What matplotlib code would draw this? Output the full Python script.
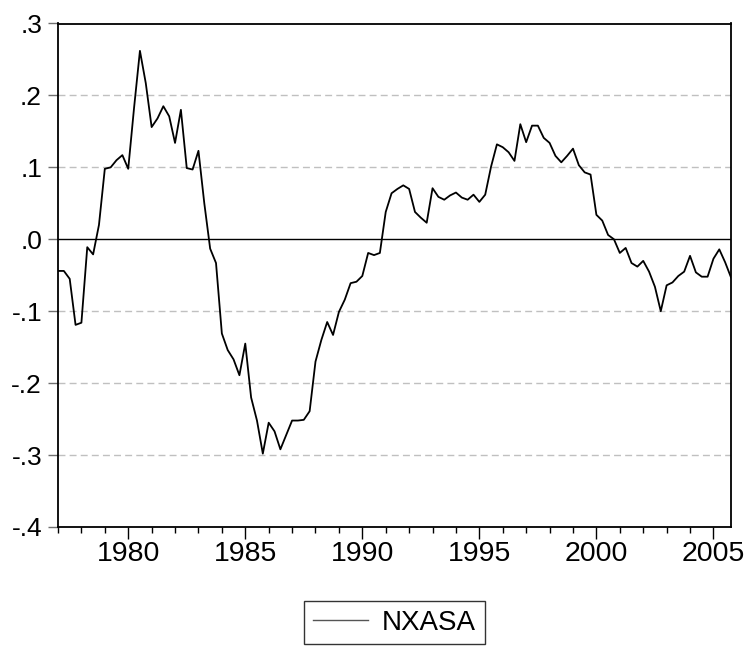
import numpy as np
import matplotlib
matplotlib.use("Agg")
import matplotlib.pyplot as plt
from matplotlib.ticker import FixedLocator, FuncFormatter

# quarterly series, 1977Q1 - 2005Q4
start_year = 1977
nxasa = [
    -0.044, -0.044, -0.055, -0.119, -0.116, -0.011, -0.021, 0.020,   # 1977-78
    0.098, 0.100, 0.110, 0.117, 0.098, 0.183, 0.262, 0.217,          # 1979-80
    0.156, 0.168, 0.185, 0.171, 0.134, 0.180, 0.099, 0.097,          # 1981-82
    0.123, 0.050, -0.013, -0.033, -0.131, -0.154, -0.167, -0.189,    # 1983-84
    -0.145, -0.220, -0.252, -0.298, -0.255, -0.267, -0.292, -0.272,  # 1985-86
    -0.252, -0.252, -0.251, -0.239, -0.170, -0.140, -0.115, -0.133,  # 1987-88
    -0.101, -0.084, -0.061, -0.059, -0.051, -0.019, -0.022, -0.019,  # 1989-90
    0.038, 0.064, 0.070, 0.075, 0.070, 0.038, 0.030, 0.023,          # 1991-92
    0.071, 0.059, 0.055, 0.061, 0.065, 0.058, 0.055, 0.062,          # 1993-94
    0.052, 0.062, 0.101, 0.132, 0.128, 0.121, 0.109, 0.160,          # 1995-96
    0.135, 0.158, 0.158, 0.141, 0.134, 0.116, 0.107, 0.116,          # 1997-98
    0.126, 0.103, 0.093, 0.090, 0.034, 0.026, 0.006, 0.000,          # 1999-2000
    -0.019, -0.012, -0.033, -0.038, -0.030, -0.045, -0.066, -0.100,  # 2001-02
    -0.064, -0.060, -0.051, -0.045, -0.023, -0.046, -0.052, -0.052,  # 2003-04
    -0.027, -0.014, -0.032, -0.053,                                  # 2005
]
series_name = "NXASA"
y_ticks = [0.3, 0.2, 0.1, 0.0, -0.1, -0.2, -0.3, -0.4]
year_labels = [1980, 1985, 1990, 1995, 2000, 2005]

t = start_year + np.arange(len(nxasa)) / 4.0

plt.rcParams["font.family"] = ["Liberation Sans", "DejaVu Sans"]

fig = plt.figure(figsize=(7.46, 6.48), dpi=100)
ax = fig.add_axes([58 / 746, 121 / 648, 673 / 746, 503.5 / 648])

# grid: dashed grey, zero line solid
for v in y_ticks:
    if v == 0.0:
        ax.axhline(v, color="black", lw=1.0, zorder=1)
    else:
        ax.axhline(v, color="#c0c0c0", lw=1.0, ls=(0, (5, 3)), zorder=1)

ax.plot(t, nxasa, color="black", lw=1.3, label=series_name, zorder=3)

ax.set_xlim(t[0], t[-1])
ax.set_ylim(-0.4, 0.3)

ax.yaxis.set_major_locator(FixedLocator(y_ticks))
ax.yaxis.set_major_formatter(FuncFormatter(
    lambda v, p: ("-" if v < -1e-9 else "") + ".%d" % round(abs(v) * 10)))
ax.tick_params(axis="y", direction="out", length=7.5, width=1.0,
               color="#707070", labelsize=19, pad=4.0)

ax.xaxis.set_major_locator(FixedLocator(year_labels))
ax.xaxis.set_minor_locator(FixedLocator(range(start_year, 2006)))
ax.xaxis.set_major_formatter(FuncFormatter(lambda v, p: "%d" % v))
ax.tick_params(axis="x", which="major", direction="out", length=8.5,
               width=1.0, labelsize=20.5, pad=1.5)
ax.tick_params(axis="x", which="minor", direction="out", length=4.3,
               width=1.0)

for s in ax.spines.values():
    s.set_linewidth(1.3)
    s.set_color("black")

leg = ax.legend(loc="center", bbox_to_anchor=(0.5, -0.19), fontsize=20,
                handlelength=2.0, handletextpad=0.5, borderpad=0.3,
                fancybox=False, frameon=True)
leg.get_frame().set_edgecolor("black")
leg.get_frame().set_linewidth(1.0)
leg.get_lines()[0].set_color("#555555")
leg.get_lines()[0].set_linewidth(1.0)

fig.savefig("out.png", dpi=100)
